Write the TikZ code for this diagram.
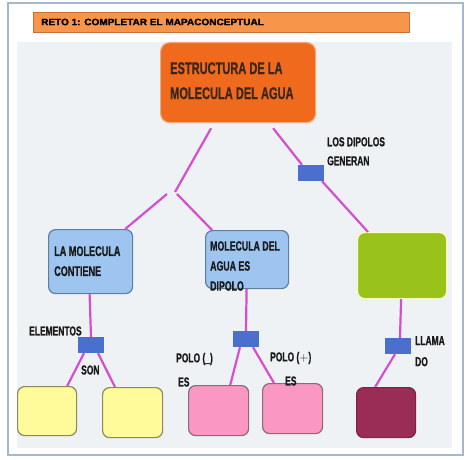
\documentclass[tikz,border=0pt]{standalone}
\usepackage{fontspec}
\setmainfont{Liberation Sans}
\newfontfamily\cond{Liberation Sans Bold}[FakeStretch=0.65,FakeBold=0.8]
\newfontfamily\heavy{Liberation Sans Bold}[FakeStretch=1.09,FakeBold=1.8]
\definecolor{framec}{HTML}{A3B8CC}
\definecolor{panelc}{HTML}{EEF2F5}
\definecolor{titlec}{HTML}{F7964A}
\definecolor{titleb}{HTML}{C87038}
\definecolor{topc}{HTML}{F06A1E}
\definecolor{bluebox}{HTML}{9DC5F0}
\definecolor{blueb}{HTML}{5F7F9F}
\definecolor{greenc}{HTML}{99C21A}
\definecolor{yellowc}{HTML}{FFFA9A}
\definecolor{yellowb}{HTML}{8A8A5A}
\definecolor{pinkc}{HTML}{FB97C3}
\definecolor{pinkb}{HTML}{8A6A7A}
\definecolor{maroonc}{HTML}{9A2D55}
\definecolor{linkc}{HTML}{D44FD0}
\definecolor{conc}{HTML}{4A6FCC}
\definecolor{txtc}{HTML}{1A1A1A}
\begin{document}
\begin{tikzpicture}[x=1pt,y=-1pt,
  lk/.style={draw=linkc, line width=2.2pt},
  con/.style={fill=conc, minimum width=26pt, minimum height=16pt, inner sep=0pt},
  bx/.style={rounded corners=7pt, line width=1.2pt, inner sep=0pt, anchor=north west},
  lbl/.style={font=\cond\fontsize{13}{13}\selectfont, text=txtc, inner sep=0pt, anchor=west},
  blbl/.style={font=\cond\fontsize{14}{20}\selectfont, text=txtc, inner sep=0pt, anchor=north west, align=left}]
\useasboundingbox (0,0) rectangle (474,460);
\fill[white] (0,0) rectangle (474,460);
\draw[framec, line width=1.5pt] (8,3) rectangle (463,455);
% title bar
\node[fill=titlec, draw=titleb, line width=0.8pt, anchor=north west, minimum width=376pt, minimum height=20pt, inner sep=0pt] (title) at (33,12) {};
\node[font=\heavy\fontsize{9.2}{9}\selectfont, anchor=west, inner sep=0pt] (titletxt) at (41,22) {RETO 1: COMPLETAR EL MAPACONCEPTUAL};
% panel
\fill[panelc] (17,42) rectangle (452,448);
% top box
\node[bx, fill=topc, draw=topc!60!white, minimum width=155pt, minimum height=80pt, rounded corners=9pt] (top) at (160,42) {};
\node[font=\cond\fontsize{17}{25}\selectfont, text=txtc!85!topc, anchor=north west, align=left, inner sep=0pt] (toptxt) at (170,62) {ESTRUCTURA DE LA\\MOLECULA DEL AGUA};
% second row boxes
\node[bx, fill=bluebox, draw=blueb, minimum width=84pt, minimum height=64pt] (lmol) at (48,229) {};
\node[blbl] (lmoltxt) at (54,246) {LA MOLECULA\\CONTIENE};
\node[bx, fill=bluebox, draw=blueb, minimum width=83pt, minimum height=58pt] (mmol) at (205,230) {};
\node[blbl, font=\cond\fontsize{13.5}{20}\selectfont] (mmoltxt) at (210,241) {MOLECULA DEL\\AGUA ES\\DIPOLO};
\node[bx, fill=greenc, draw=yellow!25!white, minimum width=89pt, minimum height=66pt] (green) at (357,232) {};
% connector boxes
\node[con] (cgen) at (311,173) {};
\node[con] (celem) at (91,345) {};
\node[con] (cdip) at (246,339) {};
\node[con] (cllam) at (398,346) {};
% bottom boxes
\node[bx, fill=yellowc, draw=yellowb, minimum width=59pt, minimum height=49pt] (y1) at (17,386) {};
\node[bx, fill=yellowc, draw=yellowb, minimum width=60pt, minimum height=50pt] (y2) at (102,387) {};
\node[bx, fill=pinkc, draw=pinkb, minimum width=60pt, minimum height=50pt] (p1) at (188,385) {};
\node[bx, fill=pinkc, draw=pinkb, minimum width=60pt, minimum height=50pt] (p2) at (262,383) {};
\node[bx, fill=maroonc, draw=maroonc!80!black, minimum width=59pt, minimum height=50pt] (mar) at (356,387) {};
% junction
\coordinate (junc) at (175,192);
\coordinate (jl) at (167,194);
\coordinate (jr) at (177,194);
% links
\draw[lk] ([xshift=-27pt,yshift=-5pt]top.south) -- (junc);
\draw[lk] (jl) -- ([xshift=-8pt]lmol.north east);
\draw[lk] (jr) -- ([xshift=7pt]mmol.north west);
\draw[lk] ([xshift=35pt,yshift=-5pt]top.south) -- ([xshift=-9pt]cgen.north);
\draw[lk] ([xshift=11pt]cgen.south) -- ([xshift=11pt]green.north west);
\draw[lk] ([xshift=-1pt]lmol.south) -- (celem.north);
\draw[lk] ([xshift=-7pt]celem.south) -- ([xshift=-10pt]y1.north east);
\draw[lk] ([xshift=7pt]celem.south) -- ([xshift=13pt]y2.north west);
\draw[lk] ([xshift=-0.5pt]mmol.south) -- (cdip.north);
\draw[lk] ([xshift=-6pt]cdip.south) -- ([xshift=-19pt]p1.north east);
\draw[lk] ([xshift=7pt]cdip.south) -- ([xshift=12pt]p2.north west);
\draw[lk] ([xshift=-1pt]green.south) -- ([xshift=2pt]cllam.north);
\draw[lk] ([xshift=-3pt]cllam.south) -- ([xshift=-11pt]mar.north);
% labels
\node[lbl, align=left, anchor=north west, font=\cond\fontsize{13}{19}\selectfont] (ldip) at (327,137) {LOS DIPOLOS\\GENERAN};
\node[lbl] (lelem) at (29,331) {ELEMENTOS};
\node[lbl] (lson) at (81,370) {SON};
\node[lbl] (lpolo1) at (176,359) {POLO (\_)};
\node[lbl] (les1) at (178,382) {ES};
\node[lbl] (lpolo2) at (270,358) {POLO ($+$)};
\node[lbl] (les2) at (285,381) {ES};
\node[lbl, align=left, anchor=north west, font=\cond\fontsize{13}{21}\selectfont] (lllam) at (415,336) {LLAMA\\DO};
\end{tikzpicture}
\end{document}
